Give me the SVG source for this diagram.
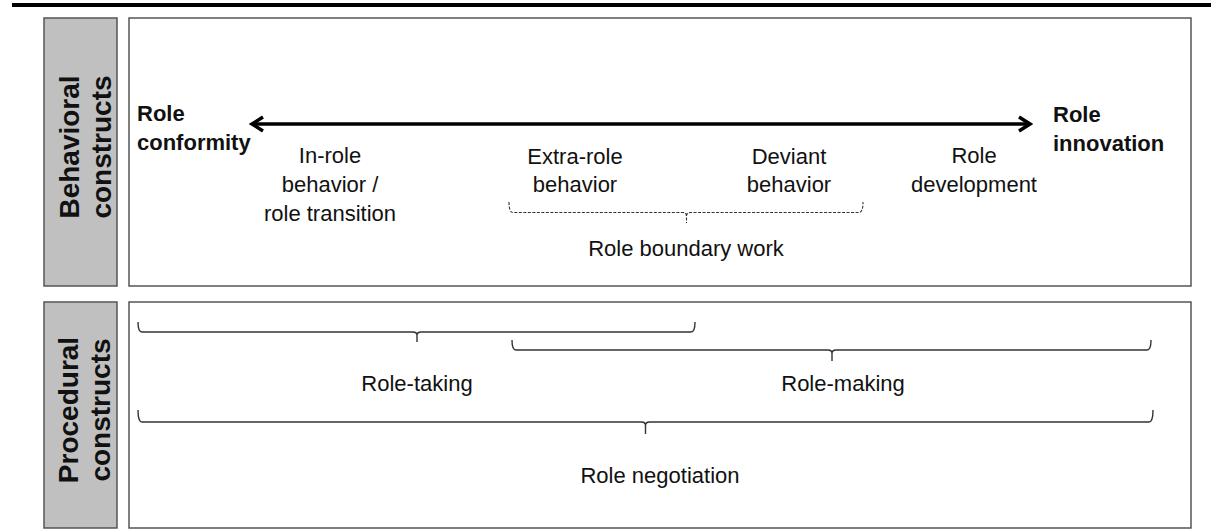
<svg xmlns="http://www.w3.org/2000/svg" width="1211" height="531" viewBox="0 0 1211 531">
<style>
.lbl{font-family:"Liberation Sans",Arial,sans-serif;font-size:22px;fill:#111;text-anchor:middle}
.bold{font-family:"Liberation Sans",Arial,sans-serif;font-size:22px;font-weight:bold;fill:#111}
.side{font-family:"Liberation Sans",Arial,sans-serif;font-size:28px;font-weight:bold;fill:#111;text-anchor:middle}
.gray{fill:#c0c0c0;stroke:#555;stroke-width:1.5}
.panel{fill:#fff;stroke:#555;stroke-width:1.5}
.brace{fill:none;stroke:#333;stroke-width:1.4}
.dash{fill:none;stroke:#333;stroke-width:1.1;stroke-dasharray:3 1.5}
</style>
<defs>
<marker id="chev" viewBox="0 0 16 18" refX="13" refY="9" markerWidth="16" markerHeight="18" markerUnits="userSpaceOnUse" orient="auto-start-reverse">
<path d="M2,2 L13,9 L2,16" fill="none" stroke="#000" stroke-width="3.5" stroke-linejoin="miter"/>
</marker>
</defs>
<rect x="12" y="3" width="1199" height="4" fill="#000"/>
<g id="behavioral-label">
<rect class="gray" x="44" y="18" width="73" height="268"/>
<text class="side" transform="translate(79,147) rotate(-90)"><tspan x="0" y="0">Behavioral</tspan><tspan x="0" y="32">constructs</tspan></text>
</g>
<g id="behavioral-panel">
<rect class="panel" x="129" y="18" width="1062" height="268"/>
</g>
<g id="procedural-label">
<rect class="gray" x="44" y="302" width="73" height="226"/>
<text class="side" transform="translate(78,410) rotate(-90)"><tspan x="0" y="0">Procedural</tspan><tspan x="0" y="32">constructs</tspan></text>
</g>
<g id="procedural-panel">
<rect class="panel" x="129" y="302" width="1062" height="226"/>
</g>
<g id="role-conformity"><text class="bold" x="137" y="121">Role</text><text class="bold" x="137" y="150">conformity</text></g>
<g id="role-innovation"><text class="bold" x="1053" y="122">Role</text><text class="bold" x="1053" y="151">innovation</text></g>
<g id="in-role"><text class="lbl" x="330" y="163">In-role</text><text class="lbl" x="330" y="192">behavior /</text><text class="lbl" x="330" y="221">role transition</text></g>
<g id="extra-role"><text class="lbl" x="575" y="164">Extra-role</text><text class="lbl" x="575" y="192">behavior</text></g>
<g id="deviant"><text class="lbl" x="789" y="164">Deviant</text><text class="lbl" x="789" y="192">behavior</text></g>
<g id="role-development"><text class="lbl" x="974" y="163">Role</text><text class="lbl" x="974" y="192">development</text></g>
<g id="role-boundary-work"><text class="lbl" x="686" y="256">Role boundary work</text></g>
<g id="role-taking"><text class="lbl" x="417" y="391">Role-taking</text></g>
<g id="role-making"><text class="lbl" x="843" y="391">Role-making</text></g>
<g id="role-negotiation"><text class="lbl" x="660" y="483">Role negotiation</text></g>
<g id="connectors">
<line x1="252" y1="124" x2="1030" y2="124" stroke="#000" stroke-width="3.5" marker-start="url(#chev)" marker-end="url(#chev)"/>
<path class="dash" d="M509,202 Q509,212.5 513,212.5 L682.5,212.5 Q686.5,212.5 686.5,216 L686.5,223 M686.5,216 Q686.5,212.5 690.5,212.5 L859,212.5 Q863,212.5 863,202"/>
<path class="brace" d="M138,322 Q138,332 142,332 L413,332 Q417,332 417,335.5 L417,342 M417,335.5 Q417,332 421,332 L691,332 Q695,332 695,322"/>
<path class="brace" d="M512,340 Q512,350 516,350 L828,350 Q832,350 832,353.5 L832,361 M832,353.5 Q832,350 836,350 L1147,350 Q1151,350 1151,340"/>
<path class="brace" d="M138,410 Q138,422 142,422 L641.5,422 Q645.5,422 645.5,425.5 L645.5,434 M645.5,425.5 Q645.5,422 649.5,422 L1149,422 Q1153,422 1153,410"/>
</g>
</svg>
